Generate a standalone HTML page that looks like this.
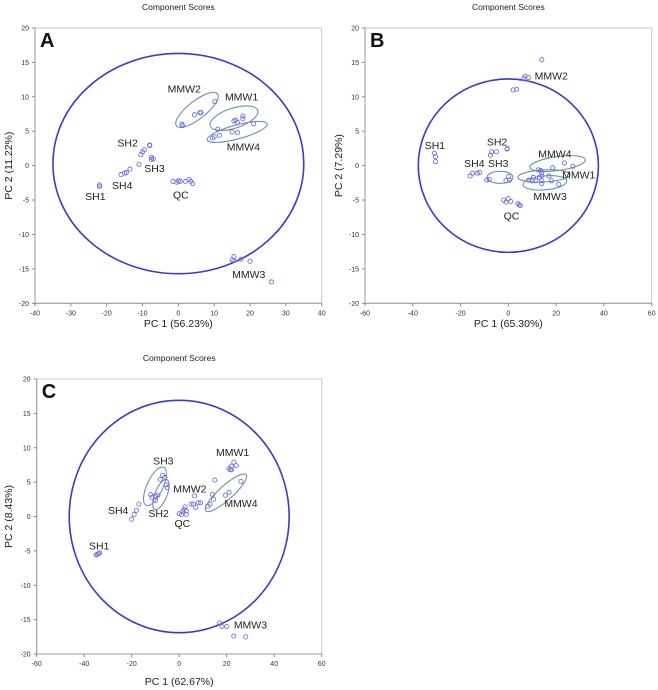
<!DOCTYPE html>
<html><head><meta charset="utf-8"><style>
html,body{margin:0;padding:0;background:#fff;}
svg{display:block;font-family:"Liberation Sans",sans-serif;}
</style></head><body>
<svg id="fig" width="658" height="690" viewBox="0 0 658 690" xmlns="http://www.w3.org/2000/svg"></svg>
<script>
// Panel A data
const aXTicks=[-40,-30,-20,-10,0,10,20,30,40];
const aYTicks=[-20,-15,-10,-5,0,5,10,15,20];
const aPoints=[[-22,-2.8],[-22,-3],[-16,-1.3],[-15,-1.1],[-14.5,-1],[-13.5,-0.5],[-11,0.2],[-10.5,1.6],[-10,2],[-9.5,2.3],[-8,3],[-8,2.9],[-7.5,1.2],[-7,1],[-7.5,0.9],[-1.5,-2.3],[-0.5,-2.4],[0,-2.2],[0.5,-2.3],[2,-2.3],[3,-2],[3.5,-2.3],[4,-2.6],[1,6],[1.2,5.8],[4.5,7.4],[6,7.7],[6.3,7.7],[10.2,9.3],[9.5,4],[10,4.2],[11,5.3],[11.5,4.4],[15.5,6.5],[16,6.6],[16.5,6.3],[18,7.2],[18,6.8],[15,4.9],[16.5,4.8],[21,6.1],[15.5,-13.2],[15,-13.7],[15.5,-13.8],[17.5,-13.6],[20,-13.9],[26,-16.9]];
const aLabels=[["MMW2",-3,10.6],["MMW1",13,9.5],["MMW4",13.5,2.2],["SH2",-17,2.8],["SH3",-9.5,-0.9],["SH4",-18.5,-3.4],["SH1",-26,-5],["QC",-1.5,-4.8],["MMW3",15,-16.3]];
const aClusters=[[5.2,8.1,26,9,-38],[15.5,6.9,25,10,-18],[16.4,4.9,31,7,-15]];
const aOuter=[0,0.3,35,16];
// Panel B data
const bXTicks=[-60,-40,-20,0,20,40,60];
const bYTicks=[-20,-15,-10,-5,0,5,10,15,20];
const bPoints=[[14,15.4],[7,13],[6.5,12.7],[8.5,12.8],[2,11],[3.5,11.1],[-31,1.8],[-30.5,1.3],[-30.5,0.6],[-7,2],[-5,2],[-7.5,1.5],[-0.5,2.4],[-0.5,2.5],[-16,-1.5],[-15,-1.1],[-13,-1.1],[-12,-1],[-9,-2.1],[-8,-2],[-1,-2.2],[0,-1.6],[0.5,-2.1],[-2,-5],[-1,-5.3],[0,-4.8],[1,-5.2],[4,-5.5],[4.5,-5.7],[5,-5.8],[18.5,-0.3],[23.5,0.4],[27,-0.1],[12.5,-0.6],[13.5,-0.7],[14,-1],[10.5,-1.7],[13,-1.7],[14,-1.5],[17,-1.5],[8.5,-2.1],[10,-2.2],[11.5,-2.2],[14,-2.2],[18,-2.2],[21,-2.7],[14,-2.6]];
const bLabels=[["MMW2",11,12.5],["SH1",-35,2.4],["SH2",-9,2.9],["SH4",-18.5,-0.2],["SH3",-8.5,-0.2],["MMW4",12.5,1.2],["MMW1",22.5,-1.9],["MMW3",10.5,-5],["QC",-2,-7.8]];
const bClusters=[[-3.5,-1.7,13,6,0],[20.6,0.3,28,7,-8],[14.9,-1.5,26,6,-3],[15.3,-2.5,22,7,-5]];
const bOuter=[0,0,37.7,12.6];
// Panel C data
const cXTicks=[-60,-40,-20,0,20,40,60];
const cYTicks=[-20,-15,-10,-5,0,5,10,15,20];
const cPoints=[[-35,-5.6],[-34.5,-5.5],[-34,-5.4],[-33.5,-5.3],[-20,-0.4],[-19,0.3],[-18,0.9],[-17,1.8],[-12,3.2],[-11.5,2.8],[-10,2.3],[-10,3],[-9,3.1],[-8,5.4],[-7,6],[-6,5.7],[-5.5,4.6],[-5,4.2],[0,0.4],[1,0.3],[1.5,0.7],[2,1],[2.5,1.4],[3,0.8],[3,0.3],[5,1.8],[6,1.8],[6.5,3],[7,1.3],[8,2],[9,2],[12,1.5],[13,1.8],[14.5,2.5],[14,3.2],[15,5.3],[19.5,3.1],[21,3.5],[26,5.1],[21,7],[21.5,6.8],[22,6.8],[22,7.3],[23,7.9],[24,7.4],[17,-15.5],[18,-16],[20,-16],[23,-17.4],[28,-17.5]];
const cLabels=[["SH3",-11,7.6],["MMW1",15.5,8.8],["MMW2",-2.5,3.5],["MMW4",19,1.4],["SH4",-30,0.4],["SH2",-13,-0.1],["QC",-2,-1.5],["SH1",-38,-4.8],["MMW3",23,-16.3]];
const cClusters=[[-10.2,4.4,21,8,-65],[-7.7,3.2,16,6,-68],[19.7,3.45,27,7,-42]];
const cOuter=[0,0,46.3,16.9];

const NS="http://www.w3.org/2000/svg";
const fig=document.getElementById('fig');
function mk(tag,attrs,parent){const e=document.createElementNS(NS,tag);for(const k in attrs)e.setAttribute(k,attrs[k]);(parent||fig).appendChild(e);return e;}

function panel(id,letter,ox,oy,L,R,T,B,xmin,xmax,xT,yT,pts,labels,clusters,outer,yLabel,xLabel,xLabelY){
  const g=mk('g',{});
  
  
  const sx=v=>ox+L+(v-xmin)/(xmax-xmin)*(R-L);
  const sy=v=>oy+T+(20-v)/40*(B-T);
  const t=mk('text',{x:ox+(L+R)/2,y:oy+T-18,'text-anchor':'middle','font-size':8.5,fill:'#222'},g);
  t.textContent='Component Scores';
  
  
  const fr=mk('rect',{x:ox+L,y:oy+T,width:R-L,height:B-T,fill:'none',stroke:'#c8c8c8','stroke-width':1},g);
  
  
  mk('line',{x1:ox+L,y1:oy+T,x2:ox+L,y2:oy+B,stroke:'#999','stroke-width':1},g);
  mk('line',{x1:ox+L,y1:oy+B,x2:ox+R,y2:oy+B,stroke:'#999','stroke-width':1},g);
  xT.forEach(v=>{
    mk('line',{x1:sx(v),y1:oy+B,x2:sx(v),y2:oy+B+3,stroke:'#888'},g);
    const tx=mk('text',{x:sx(v),y:oy+B+12,'text-anchor':'middle','font-size':7,fill:'#333'},g);
    tx.textContent=v;
    
    
  });
  yT.forEach(v=>{
    mk('line',{x1:ox+L-3,y1:sy(v),x2:ox+L,y2:sy(v),stroke:'#888'},g);
    const ty=mk('text',{x:ox+L-6,y:sy(v)+2.5,'text-anchor':'end','font-size':7,fill:'#333'},g);
    ty.textContent=v;
    
    
  });
  const yl=mk('text',{x:0,y:0,transform:`translate(${ox+12},${(sy(0))}) rotate(-90)`,'text-anchor':'middle','font-size':10.5,fill:'#222'},g);
  yl.textContent=yLabel;
  
  
  const xl=mk('text',{x:ox+(L+R)/2,y:xLabelY,'text-anchor':'middle','font-size':10.5,fill:'#222'},g);
  xl.textContent=xLabel;
  
  
  const lt=mk('text',{x:ox+L+5,y:oy+T+19,'font-size':20,'font-weight':'bold',fill:'#111'},g);
  lt.textContent=letter;
  
  
  const kx=(R-L)/(xmax-xmin), ky=(B-T)/40;
  const oe=mk('ellipse',{cx:sx(outer[0]),cy:sy(outer[1]),rx:outer[2]*kx,ry:outer[3]*ky,fill:'none',stroke:'#3a3acc','stroke-width':1.6},g);
  
  
  clusters.forEach(c=>{
    const e=mk('ellipse',{cx:sx(c[0]),cy:sy(c[1]),rx:c[2],ry:c[3],transform:`rotate(${c[4]} ${sx(c[0])} ${sy(c[1])})`,fill:'none',stroke:'#6a93ac','stroke-width':1.1},g);
    
    
  });
  pts.forEach(p=>{
    const c=mk('circle',{cx:sx(p[0]),cy:sy(p[1]),r:2.1,fill:'none',stroke:'#7070e6','stroke-width':0.9},g);
    
    
  });
  labels.forEach(l=>{
    const tx=mk('text',{x:sx(l[1]),y:sy(l[2]),'font-size':10.5,fill:'#222'},g);
    tx.textContent=l[0];
    
    
  });
}
panel('a','A',0,0,35,321.7,28,303.3,-40,40,aXTicks,aYTicks,aPoints,aLabels,aClusters,aOuter,'PC 2 (11.22%)','PC 1 (56.23%)',327);
panel('b','B',330,0,35,321.7,28,303.3,-60,60,bXTicks,bYTicks,bPoints,bLabels,bClusters,bOuter,'PC 2 (7.29%)','PC 1 (65.30%)',327);
panel('c','C',0,379,36.7,321.7,0,275,-60,60,cXTicks,cYTicks,cPoints,cLabels,cClusters,cOuter,'PC 2 (8.43%)','PC 1 (62.67%)',685);
</script>
</body></html>
